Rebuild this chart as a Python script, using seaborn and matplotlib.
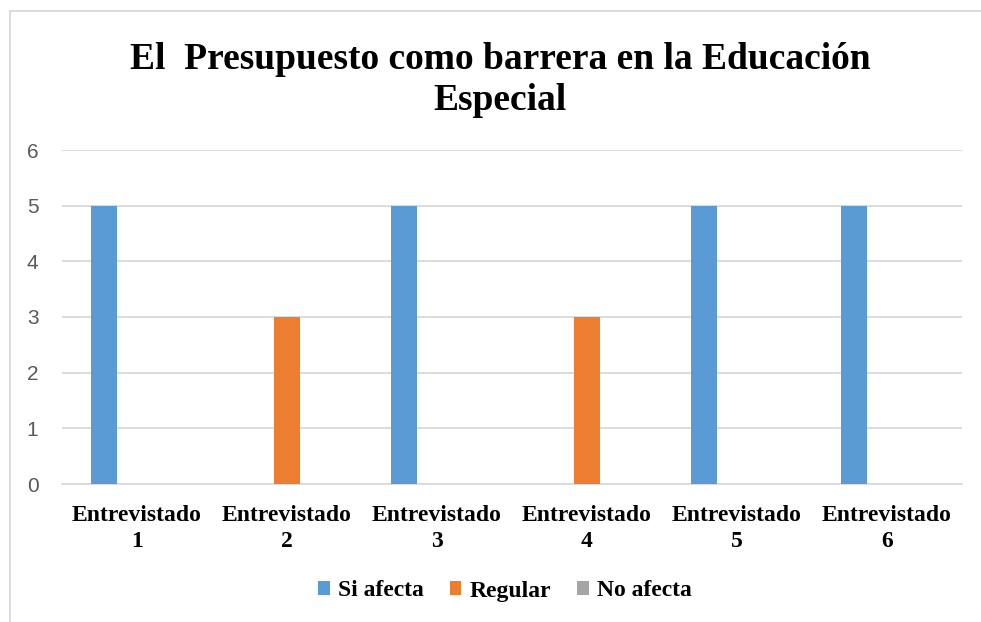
import matplotlib
matplotlib.use("Agg")
import matplotlib.pyplot as plt
from matplotlib.patches import Patch, Rectangle
import seaborn as sns
import pandas as pd

categories = ["Entrevistado\n1", "Entrevistado\n2", "Entrevistado\n3",
              "Entrevistado\n4", "Entrevistado\n5", "Entrevistado\n6"]
series_names = ["Si afecta", "Regular", "No afecta"]
si_afecta = [5, 0, 5, 0, 5, 5]
regular = [0, 3, 0, 3, 0, 0]
no_afecta = [0, 0, 0, 0, 0, 0]
colors = ["#5B9BD5", "#ED7D31", "#A5A5A5"]
title = "El  Presupuesto como barrera en la Educación\nEspecial"

rows = []
for name, vals in zip(series_names, [si_afecta, regular, no_afecta]):
    for c, v in zip(categories, vals):
        rows.append({"cat": c, "serie": name, "val": v})
df = pd.DataFrame(rows)

sns.set_theme(style="white")
plt.rcParams["text.color"] = "black"
W, H = 981, 622
fig = plt.figure(figsize=(W / 100, H / 100), dpi=100)

# chart border
fig.patches.append(Rectangle((10 / W, -0.1), 1.2, (H - 11) / H + 0.1,
                             transform=fig.transFigure, fill=False,
                             edgecolor="#D9D9D9", linewidth=1.3))

ax = fig.add_axes([62 / W, (H - 484) / H, 900 / W, 334 / H])
sns.barplot(data=df, x="cat", y="val", hue="serie", hue_order=series_names,
            order=categories, palette=colors, width=0.66, gap=0.21,
            linewidth=0, saturation=1, legend=False, ax=ax)

ax.set_ylim(0, 6)
ax.set_yticks(range(0, 7))
ax.set_xlim(-0.5, 5.5)
ax.yaxis.grid(True, color="#D9D9D9", linewidth=1.3)
ax.set_axisbelow(True)
for s in ["top", "right", "left"]:
    ax.spines[s].set_visible(False)
ax.spines["bottom"].set_color("#D9D9D9")
ax.spines["bottom"].set_linewidth(1.3)
ax.spines["bottom"].set_zorder(0.5)
ax.set_xlabel("")
ax.set_ylabel("")
ax.tick_params(axis="y", length=0, pad=17, labelsize=15, labelcolor="#595959")
ax.tick_params(axis="x", length=0, pad=15)
for t in ax.get_yticklabels():
    t.set_fontfamily(["Liberation Sans", "DejaVu Sans"])
for t in ax.get_xticklabels():
    t.set_fontfamily(["Liberation Serif", "DejaVu Serif"])
    t.set_fontweight("bold")
    t.set_fontsize(17)
    t.set_color("black")
    t.set_linespacing(1.3)

fig.text(500 / W, (H - 80) / H, title, ha="center", va="center",
         fontsize=27, fontweight="bold", color="black",
         family=["Liberation Serif", "DejaVu Serif"], linespacing=1.2)

handles = [Patch(facecolor=c, edgecolor="none", label=n) for c, n in zip(colors, series_names)]
leg = fig.legend(handles=handles, loc="center", bbox_to_anchor=(505 / W, (H - 591) / H),
                 ncol=3, frameon=False, handlelength=0.5, handleheight=0.5,
                 handletextpad=0.35, columnspacing=1.1,
                 prop={"family": ["Liberation Serif", "DejaVu Serif"], "weight": "bold", "size": 17})
for t in leg.get_texts():
    t.set_color("black")

fig.savefig("out.png", dpi=100)
